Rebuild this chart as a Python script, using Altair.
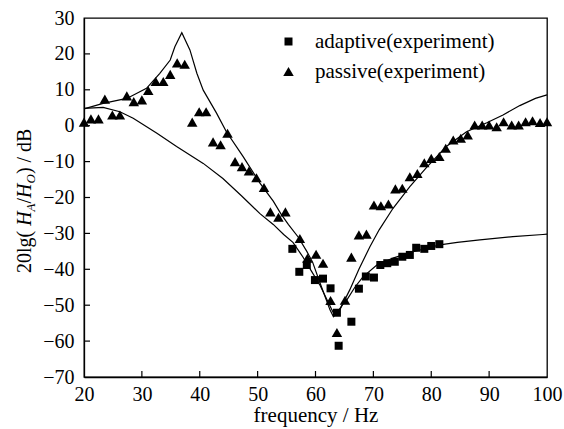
import altair as alt
import pandas as pd

# ---------------- data ----------------
tri_f = [20.0, 21.2, 22.5, 23.6, 24.9, 26.2, 27.4, 28.6, 30.0, 31.1, 32.4, 33.7, 34.9, 36.1, 37.4,
         38.7, 39.9, 41.1, 42.3, 43.6, 44.8, 46.1, 47.3, 48.5, 49.8, 51.1, 52.2, 53.6, 54.8,
         57.3, 58.6, 60.1, 61.3, 62.6, 63.7, 65.1, 66.2, 67.5, 68.8, 70.1, 71.3, 72.6, 73.8,
         75.0, 76.3, 77.6, 78.8, 80.0, 81.4, 82.5, 83.8, 85.1, 86.3, 87.5, 88.8, 90.0, 91.3,
         92.5, 93.9, 95.1, 96.3, 97.5, 98.8, 100.0]
tri_db = [1.0, 1.9, 1.9, 7.4, 3.0, 3.0, 8.3, 6.7, 7.2, 9.8, 12.3, 12.3, 14.3, 17.5, 17.1,
          1.0, 3.9, 3.9, -4.5, -5.3, -2.1, -10.0, -11.4, -12.6, -14.5, -17.2, -24.0, -25.5, -24.0,
          -31.4, -36.9, -35.8, -38.3, -48.7, -57.6, -48.6, -36.6, -30.4, -30.2, -22.1, -22.3, -21.8, -17.6,
          -17.4, -14.2, -13.3, -10.3, -9.1, -8.6, -6.3, -4.0, -3.5, -2.6, 0.2, 0.2, 0.2, -0.3,
          1.1, 0.2, 0.2, 1.1, 1.4, 0.9, 1.1]

sq_f = [56.0, 57.2, 58.5, 59.9, 61.3, 62.6, 63.7, 64.0, 66.2, 67.5, 68.7, 70.1, 71.2, 72.4,
        73.7, 75.0, 76.3, 77.4, 78.8, 80.0, 81.4]
sq_db = [-34.3, -40.7, -38.8, -43.0, -42.6, -45.3, -52.1, -61.3, -54.6, -45.4, -42.0, -42.3, -38.8, -38.3,
         -37.9, -36.5, -36.0, -34.0, -34.3, -33.5, -33.0]

pas_f = [20.0, 23.3, 27.4, 30.8, 33.1, 34.9, 35.7, 36.9, 38.3, 39.5, 40.6, 42.9, 44.6, 47.5, 50.4,
         52.7, 54.0, 55.3, 57.0, 58.5, 59.5, 60.8, 62.5, 63.1, 64.2, 65.9, 67.5, 69.4, 71.0, 73.4,
         76.3, 79.2, 82.6, 86.1, 89.6, 92.4, 95.3, 98.0, 100.0]
pas_db = [4.7, 6.2, 7.6, 10.4, 14.6, 18.3, 22.0, 25.9, 21.1, 14.6, 9.9, 3.5, -1.7, -8.6, -16.0,
          -21.0, -24.5, -27.5, -31.0, -35.0, -38.0, -43.9, -51.3, -53.2, -51.3, -45.8, -40.0, -33.7, -29.0, -23.0,
          -17.0, -11.6, -5.8, -1.7, 0.8, 3.0, 5.6, 7.6, 8.6]

ada_f = [20.0, 23.3, 26.2, 28.5, 32.6, 36.0, 40.6, 44.0, 47.2, 50.4, 52.7, 54.5, 56.1, 57.8, 59.3,
         60.8, 62.3, 63.2, 63.8, 64.6, 65.4, 66.8, 68.2, 70.6, 73.5, 76.9, 81.5, 84.5, 88.4, 94.1,
         99.3, 100.0]
ada_db = [4.8, 5.1, 3.9, 2.1, -2.1, -5.8, -10.5, -14.7, -19.5, -24.5, -27.5, -30.3, -32.5, -36.5, -40.5,
          -44.5, -49.5, -52.5, -52.0, -50.0, -48.6, -45.0, -42.1, -38.8, -36.8, -35.1, -33.2, -32.5, -31.8, -30.9,
          -30.3, -30.2]

x_ticks = [20, 30, 40, 50, 60, 70, 80, 90, 100]
y_ticks = [-70, -60, -50, -40, -30, -20, -10, 0, 10, 20, 30]
legend_names = ["adaptive(experiment)", "passive(experiment)"]

# ---------------- tables ----------------
pts = pd.concat([
    pd.DataFrame({"f": sq_f, "db": sq_db, "series": legend_names[0]}),
    pd.DataFrame({"f": tri_f, "db": tri_db, "series": legend_names[1]}),
], ignore_index=True)
lines = pd.concat([
    pd.DataFrame({"f": pas_f, "db": pas_db, "curve": "passive"}),
    pd.DataFrame({"f": ada_f, "db": ada_db, "curve": "adaptive"}),
], ignore_index=True)
xt = pd.DataFrame({"f": x_ticks[1:-1]})
yt = pd.DataFrame({"db": y_ticks[1:-1]})

W, H = 463, 359
FONT = "Liberation Serif"

xscale = alt.Scale(domain=[20, 100], nice=False, zero=False)
yscale = alt.Scale(domain=[-70, 30], nice=False, zero=False)
xaxis = alt.Axis(values=x_ticks, ticks=False, grid=False, labelPadding=7,
                 labelFlush=False, title="frequency / Hz", titlePadding=0)
yaxis = alt.Axis(values=y_ticks, ticks=False, grid=False, labelPadding=10,
                 labelFlush=False, title="")

X = alt.X("f:Q", scale=xscale, axis=xaxis)
Y = alt.Y("db:Q", scale=yscale, axis=yaxis)

line_layer = alt.Chart(lines).mark_line(color="black", strokeWidth=1.2).encode(
    x=X, y=Y, detail="curve:N", order="f:Q")

leg = alt.Legend(title=None, orient="none", legendX=194, legendY=13, labelOffset=16,
                 rowPadding=8, padding=0, symbolStrokeWidth=0, labelLimit=400)
point_layer = alt.Chart(pts).mark_point(filled=True, color="black", opacity=1).encode(
    x=X, y=Y,
    shape=alt.Shape("series:N", scale=alt.Scale(domain=legend_names, range=["square", "triangle-up"]),
                    legend=leg),
    size=alt.Size("series:N", scale=alt.Scale(domain=legend_names, range=[64, 110]), legend=leg),
)

xtick_layer = alt.Chart(xt).mark_rule(color="black", strokeWidth=1.2).encode(
    x=X, y=alt.value(H), y2=alt.value(H - 6))
ytick_layer = alt.Chart(yt).mark_rule(color="black", strokeWidth=1.2).encode(
    y=Y, x=alt.value(0), x2=alt.value(6))

# y-axis title assembled from pieces (italic H, subscripts A and O)
one = pd.DataFrame({"k": [0]})
def piece(txt, ypos, size=20, style="normal", dx=0):
    return alt.Chart(one).mark_text(text=txt, font=FONT, fontSize=size, fontStyle=style,
                                    angle=270, align="left", baseline="alphabetic",
                                    color="black").encode(x=alt.value(-53 + dx), y=alt.value(ypos))

title_parts = [
    piece("20lg( ", 255),
    piece("H", 207.8, style="italic"),
    piece("A", 193.4, size=13, style="italic", dx=4),
    piece("/", 185.5),
    piece("H", 179.9, style="italic"),
    piece("O", 165.5, size=13, style="italic", dx=4),
    piece(" ) / dB", 156.1),
]

chart = alt.layer(line_layer, point_layer, xtick_layer, ytick_layer, *title_parts).properties(
    width=W, height=H,
    padding={"left": 84, "top": 18, "right": 17, "bottom": 52},
    autosize=alt.AutoSizeParams(type="none"),
).configure(
    background="white", font=FONT
).configure_view(
    stroke="black", strokeWidth=1.3
).configure_axis(
    domainColor="black", domainWidth=1.3,
    labelFont=FONT, labelFontSize=20, labelColor="black",
    titleFont=FONT, titleFontSize=21, titleFontWeight="normal", titleColor="black",
).configure_legend(
    labelFont=FONT, labelFontSize=21, labelColor="black",
)

chart.save("out.html", embed_options={"renderer": "svg", "actions": False})
